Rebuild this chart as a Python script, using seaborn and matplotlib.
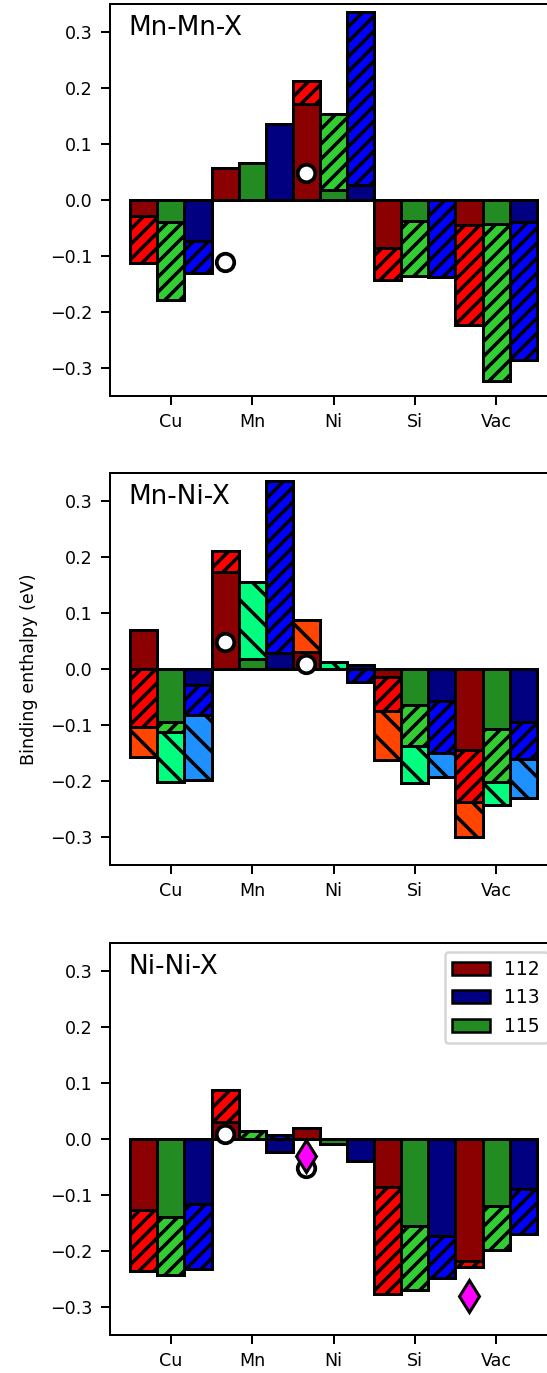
import pandas as pd
import seaborn as sns
import matplotlib.pyplot as plt
from matplotlib.patches import Patch

# 원소 / 방향 (그리는 순서: 112, 115, 113)
elements = ["Cu", "Mn", "Ni", "Si", "Vac"]
orients = ["112", "115", "113"]
panel_titles = ["Mn-Mn-X", "Mn-Ni-X", "Ni-Ni-X"]

# 색상: 진한색(solid), 해칭(//), 세번째 층(\)
dark_colors = {"112": "darkred", "115": "forestgreen", "113": "navy"}
hatch_colors = {"112": "red", "115": "limegreen", "113": "blue"}
third_colors = {"112": "orangered", "115": "springgreen", "113": "dodgerblue"}

# Mn-Mn-X
mnmn_dark = {"112": [-0.029, 0.057, 0.172, -0.085, -0.045],
             "115": [-0.039, 0.066, 0.017, -0.037, -0.043],
             "113": [-0.073, 0.136, 0.026, 0.0, -0.039]}
mnmn_hatch = {"112": [-0.112, 0.0, 0.212, -0.142, -0.224],
              "115": [-0.179, 0.0, 0.153, -0.135, -0.323],
              "113": [-0.130, 0.0, 0.336, -0.137, -0.285]}

# Mn-Ni-X
mnni_dark = {"112": [0.070, 0.173, 0.031, -0.015, -0.145],
             "115": [-0.095, 0.018, 0.0, -0.064, -0.107],
             "113": [-0.029, 0.028, 0.008, -0.057, -0.094]}
mnni_hatch = {"112": [-0.104, 0.210, 0.0, -0.075, -0.237],
              "115": [-0.113, 0.0, 0.0, -0.137, -0.202],
              "113": [-0.082, 0.336, -0.024, -0.150, -0.160]}
mnni_third = {"112": [-0.157, 0.0, 0.088, -0.163, -0.300],
              "115": [-0.201, 0.155, 0.013, -0.204, -0.243],
              "113": [-0.198, 0.0, 0.0, -0.192, -0.230]}

# Ni-Ni-X
nini_dark = {"112": [-0.127, 0.030, 0.019, -0.085, -0.218],
             "115": [-0.140, 0.0, -0.009, -0.155, -0.120],
             "113": [-0.116, -0.024, -0.039, -0.173, -0.090]}
nini_hatch = {"112": [-0.236, 0.088, 0.0, -0.277, -0.229],
              "115": [-0.243, 0.015, 0.0, -0.270, -0.198],
              "113": [-0.232, 0.008, 0.0, -0.248, -0.170]}

# 비교용 마커 (원소, 값)
circle_el = [["Mn", "Ni"], ["Mn", "Ni"], ["Mn", "Ni"]]
circle_val = [[-0.110, 0.049], [0.049, 0.009], [0.009, -0.051]]
diamond_el = [[], [], ["Ni", "Vac"]]
diamond_val = [[], [], [-0.030, -0.280]]

panels = [
    [(mnmn_hatch, hatch_colors, "////"), (mnmn_dark, dark_colors, "")],
    [(mnni_third, third_colors, "\\\\"), (mnni_hatch, hatch_colors, "////"), (mnni_dark, dark_colors, "")],
    [(nini_hatch, hatch_colors, "////"), (nini_dark, dark_colors, "")],
]

plt.rcParams["hatch.linewidth"] = 1.4

W, H = 547, 1373
fig = plt.figure(figsize=(W / 180, H / 180), dpi=180)
tops = [4, 473, 943]
ax_h = 392

for k, layers in enumerate(panels):
    ax = fig.add_axes([110 / W, (H - tops[k] - ax_h) / H, 447 / W, ax_h / H])
    for vals, cols, hatch in layers:
        df = pd.DataFrame([(el, o, vals[o][i]) for o in orients for i, el in enumerate(elements)],
                          columns=["element", "orient", "value"])
        n0 = len(ax.patches)
        sns.barplot(data=df, x="element", y="value", hue="orient", order=elements,
                    hue_order=orients, palette=[cols[o] for o in orients], width=1.0,
                    edgecolor="black", linewidth=1.2, errorbar=None, legend=False,
                    saturation=1, ax=ax)
        if hatch:
            for p in ax.patches[n0:]:
                p.set_hatch(hatch)
    # 기준값 마커
    shift = orients.index("112") - 1
    for el, v in zip(circle_el[k], circle_val[k]):
        ax.plot(elements.index(el) + shift / 3, v, "o", ms=7, mfc="white",
                mec="black", mew=1.5, zorder=5)
    for el, v in zip(diamond_el[k], diamond_val[k]):
        ax.plot(elements.index(el) + shift / 3, v, "d", ms=9, mfc="magenta",
                mec="black", mew=1.2, zorder=6)

    ax.set_xlim(-0.75, 4.75)
    ax.set_ylim(-0.35, 0.35)
    ax.set_yticks([-0.3, -0.2, -0.1, 0.0, 0.1, 0.2, 0.3])
    ax.tick_params(labelsize=7)
    ax.set_xlabel("")
    ax.set_ylabel("Binding enthalpy (eV)" if k == 1 else "", fontsize=7, labelpad=5)
    ax.text(0.04, 0.973, panel_titles[k], transform=ax.transAxes, fontsize=10.5, va="top")
    if k == 2:
        handles = [Patch(facecolor=dark_colors[o], edgecolor="black", label=o)
                   for o in ["112", "113", "115"]]
        ax.legend(handles=handles, loc="upper right", fontsize=7.5)

fig.savefig("out.png", dpi=180)
